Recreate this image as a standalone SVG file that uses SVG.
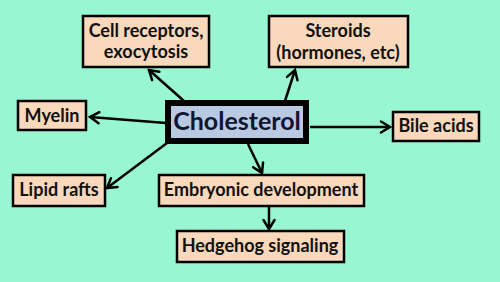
<svg xmlns="http://www.w3.org/2000/svg" width="500" height="282" viewBox="0 0 500 282">
<style>
.bg{fill:#98F6D2}
.box{fill:#F9D8BC;stroke:#000;stroke-width:2.5}
.main{fill:#B9C9E2;stroke:#000;stroke-width:6}
.t{font-family:Lato,"Liberation Sans",sans-serif;font-weight:bold;font-size:18px;fill:#111;text-anchor:middle}
.tm{font-family:Lato,"Liberation Sans",sans-serif;font-weight:bold;font-size:25px;fill:#0E1630;text-anchor:middle}
.c line{stroke:#000;stroke-width:2.5;marker-end:url(#ah)}
</style>
<defs>
<marker id="ah" markerUnits="userSpaceOnUse" markerWidth="14" markerHeight="14" viewBox="-1 -1 14 14" refX="10" refY="6" orient="auto">
<path d="M1,0.5 L10,6 L1,11.5" fill="none" stroke="#000" stroke-width="2.5" stroke-linecap="round" stroke-linejoin="miter"/>
</marker>
</defs>
<rect class="bg" x="0" y="0" width="500" height="282"/>
<g class="c" id="connectors">
<line x1="184" y1="101" x2="149" y2="70"/>
<line x1="285" y1="101" x2="295" y2="70"/>
<line x1="166" y1="123" x2="90" y2="117"/>
<line x1="310" y1="127" x2="390" y2="127"/>
<line x1="167" y1="143" x2="107" y2="188"/>
<line x1="248" y1="144" x2="262" y2="173"/>
<line x1="269" y1="207" x2="269" y2="229"/>
</g>
<g id="cholesterol">
<rect class="main" x="168" y="103" width="138" height="38"/>
<text class="tm" x="237" y="130">Cholesterol</text>
</g>
<g id="cell-receptors">
<rect class="box" x="83" y="16" width="126" height="51"/>
<text class="t" x="146" y="37">Cell receptors,</text>
<text class="t" x="146" y="58">exocytosis</text>
</g>
<g id="steroids">
<rect class="box" x="269" y="16" width="139" height="51"/>
<text class="t" x="338" y="37">Steroids</text>
<text class="t" x="338" y="59">(hormones, etc)</text>
</g>
<g id="myelin">
<rect class="box" x="18" y="101" width="68" height="29"/>
<text class="t" x="52" y="122">Myelin</text>
</g>
<g id="bile-acids">
<rect class="box" x="393" y="112" width="86" height="29"/>
<text class="t" x="436" y="132">Bile acids</text>
</g>
<g id="lipid-rafts">
<rect class="box" x="13" y="175" width="92" height="31"/>
<text class="t" x="59" y="196">Lipid rafts</text>
</g>
<g id="embryonic">
<rect class="box" x="159" y="175" width="205" height="31"/>
<text class="t" x="261" y="196">Embryonic development</text>
</g>
<g id="hedgehog">
<rect class="box" x="177" y="231" width="167" height="31"/>
<text class="t" x="260" y="252">Hedgehog signaling</text>
</g>
</svg>
